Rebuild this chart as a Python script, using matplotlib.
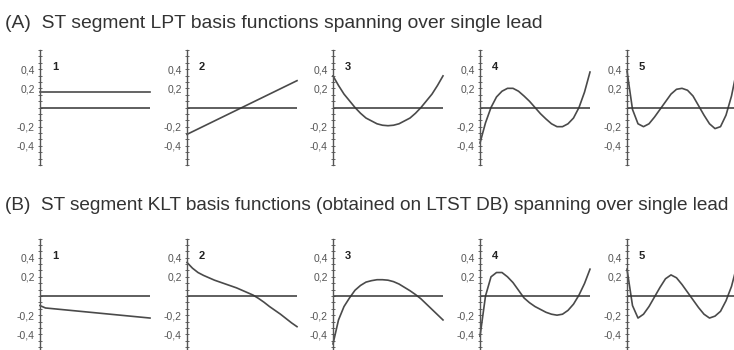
import matplotlib
matplotlib.use('Agg')
import matplotlib.pyplot as plt
from matplotlib.ticker import FixedLocator, FixedFormatter, MultipleLocator

plt.rcParams['font.family'] = ['Liberation Sans', 'DejaVu Sans']

# position along the ST segment (0 = start, 1 = end)
t21 = [0.0, 0.05, 0.10, 0.15, 0.20, 0.25, 0.30, 0.35, 0.40, 0.45, 0.50,
       0.55, 0.60, 0.65, 0.70, 0.75, 0.80, 0.85, 0.90, 0.95, 1.0]
t_line = [0.0, 1.0]

# (A) LPT basis functions
lpt1 = [0.16, 0.16]
lpt2 = [-0.28, 0.28]
lpt3 = [0.33, 0.23, 0.14, 0.07, 0.0, -0.06, -0.11, -0.14, -0.17, -0.185, -0.19,
        -0.185, -0.17, -0.14, -0.11, -0.06, 0.0, 0.07, 0.14, 0.23, 0.33]
lpt4 = [-0.37, -0.16, 0.0, 0.11, 0.17, 0.20, 0.20, 0.17, 0.12, 0.065, 0.0,
        -0.065, -0.12, -0.17, -0.20, -0.20, -0.17, -0.11, 0.0, 0.16, 0.37]
lpt5 = [0.38, -0.02, -0.17, -0.20, -0.17, -0.10, -0.02, 0.06, 0.14, 0.19, 0.20,
        0.18, 0.12, 0.02, -0.08, -0.17, -0.22, -0.20, -0.08, 0.12, 0.40]

# (B) KLT basis functions (LTST DB)
klt1_t = [0.0, 0.05, 1.0]
klt1 = [-0.10, -0.125, -0.23]
klt2 = [0.35, 0.29, 0.245, 0.215, 0.19, 0.165, 0.145, 0.125, 0.105, 0.085, 0.06,
        0.035, 0.01, -0.025, -0.065, -0.11, -0.15, -0.19, -0.235, -0.28, -0.32]
klt3 = [-0.50, -0.25, -0.11, -0.02, 0.06, 0.11, 0.145, 0.16, 0.17, 0.17, 0.165,
        0.15, 0.125, 0.09, 0.055, 0.015, -0.03, -0.085, -0.14, -0.195, -0.25]
klt4 = [-0.42, 0.0, 0.20, 0.245, 0.245, 0.20, 0.14, 0.06, -0.02, -0.07, -0.11,
        -0.14, -0.17, -0.19, -0.20, -0.19, -0.15, -0.085, 0.01, 0.13, 0.28]
klt5 = [0.28, -0.10, -0.23, -0.19, -0.11, -0.01, 0.09, 0.18, 0.22, 0.19, 0.12,
        0.04, -0.04, -0.12, -0.19, -0.23, -0.21, -0.16, -0.05, 0.10, 0.32]

tick_vals = [-0.4, -0.2, 0.2, 0.4]
tick_text = ['-0,4', '-0,2', '0,2', '0,4']
panel_names = ['1', '2', '3', '4', '5']

rows = [
    ('(A)  ST segment LPT basis functions spanning over single lead',
     [(t_line, lpt1), (t_line, lpt2), (t21, lpt3), (t21, lpt4), (t21, lpt5)]),
    ('(B)  ST segment KLT basis functions (obtained on LTST DB) spanning over single lead',
     [(klt1_t, klt1), (t21, klt2), (t21, klt3), (t21, klt4), (t21, klt5)]),
]

W, H = 734, 350
fig = plt.figure(figsize=(W / 100, H / 100), dpi=100)

lefts = [40, 187, 333, 480, 627]
row_bottom = [185, -3.5]
title_base = [27.5, 210]
title_size = [13.85, 13.68]
ax_w, ax_h = 110, 115
line_col = '#4a4a4a'

for r, (title, curves) in enumerate(rows):
    fig.text(5 / W, 1 - title_base[r] / H, title, fontsize=title_size[r],
             color='#333333', va='baseline', ha='left')
    for k, (tx, ty) in enumerate(curves):
        ax = fig.add_axes([lefts[k] / W, row_bottom[r] / H, ax_w / W, ax_h / H])
        ax.plot(tx, ty, color=line_col, lw=1.2, clip_on=False)
        ax.axhline(0, color='#333333', lw=1.1)
        ax.set_xlim(0, 1)
        ax.set_ylim(-0.6, 0.6)
        for s in ['top', 'right', 'bottom']:
            ax.spines[s].set_visible(False)
        ax.spines['left'].set_color('#555555')
        ax.spines['left'].set_linewidth(1.0)
        ax.set_xticks([])
        ax.yaxis.set_major_locator(FixedLocator(tick_vals))
        ax.yaxis.set_major_formatter(FixedFormatter(tick_text))
        ax.yaxis.set_minor_locator(MultipleLocator(0.2 / 3))
        ax.tick_params(axis='y', which='both', direction='inout', color='#666666',
                       labelsize=7.5, labelcolor='#555555', pad=2, width=0.7)
        ax.tick_params(axis='y', which='major', length=3.5)
        ax.tick_params(axis='y', which='minor', length=2.5)
        ax.patch.set_visible(False)
        ax.text(0.11, 0.42, panel_names[k], transform=ax.get_yaxis_transform(),
                fontsize=8, fontweight='bold', color='#222222', va='center', ha='left')

fig.savefig('out.png', dpi=100)
